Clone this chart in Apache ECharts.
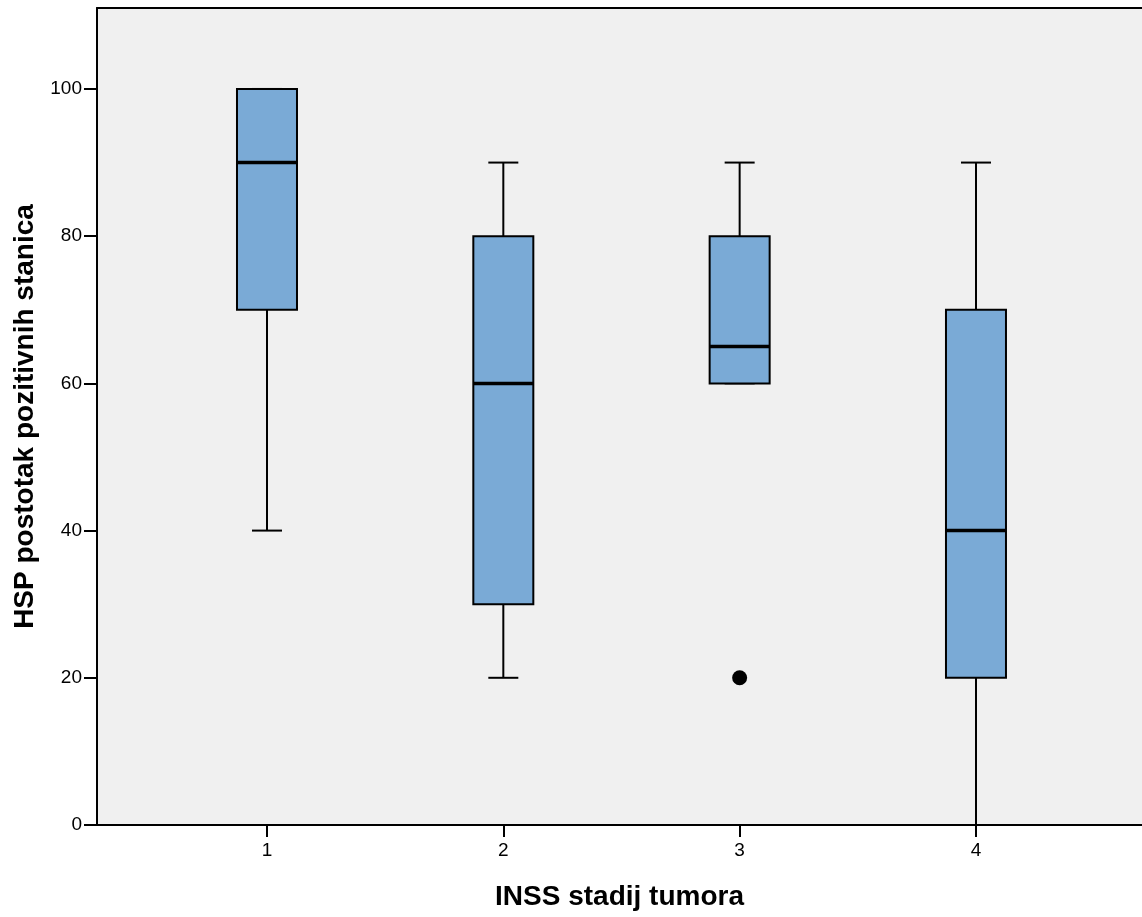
<!DOCTYPE html>
<html>
<head>
<meta charset="utf-8">
<script src="https://cdn.jsdelivr.net/npm/echarts@6/dist/echarts.min.js"></script>
<style>
html,body{margin:0;padding:0;background:#fff;}
#chart{width:1142px;height:917px;}
</style>
</head>
<body>
<div id="chart"></div>
<script>
// Data
const categories = [1, 2, 3, 4];
const whiskerLow = [40, 20, 60, 0];
const q1 = [70, 30, 60, 20];
const medians = [90, 60, 65, 40];
const q3 = [100, 80, 80, 70];
const whiskerHigh = [100, 90, 90, 90];
const outliers = [[3, 20]];
const yTicks = [0, 20, 40, 60, 80, 100];

const boxData = categories.map((c, i) => [c, whiskerLow[i], q1[i], medians[i], q3[i], whiskerHigh[i]]);

const BOX_W = 60, CAP_W = 30;
function renderBox(params, api) {
  const x = api.value(0);
  const pLow = api.coord([x, api.value(1)]);
  const pQ1 = api.coord([x, api.value(2)]);
  const pMed = api.coord([x, api.value(3)]);
  const pQ3 = api.coord([x, api.value(4)]);
  const pHigh = api.coord([x, api.value(5)]);
  const cx = pLow[0];
  const lineStyle = {stroke: '#000', lineWidth: 2};
  return {
    type: 'group',
    children: [
      {type: 'line', shape: {x1: cx, y1: pLow[1], x2: cx, y2: pQ1[1]}, style: lineStyle},
      {type: 'line', shape: {x1: cx, y1: pQ3[1], x2: cx, y2: pHigh[1]}, style: lineStyle},
      {type: 'line', shape: {x1: cx - CAP_W/2, y1: pLow[1], x2: cx + CAP_W/2, y2: pLow[1]}, style: lineStyle},
      {type: 'line', shape: {x1: cx - CAP_W/2, y1: pHigh[1], x2: cx + CAP_W/2, y2: pHigh[1]}, style: lineStyle},
      {type: 'rect', shape: {x: cx - BOX_W/2, y: pQ3[1], width: BOX_W, height: pQ1[1] - pQ3[1]},
        style: {fill: '#7aaad6', stroke: '#000', lineWidth: 2}},
      {type: 'line', shape: {x1: cx - BOX_W/2, y1: pMed[1], x2: cx + BOX_W/2, y2: pMed[1]},
        style: {stroke: '#000', lineWidth: 3.5}}
    ]
  };
}

const FONT = 'Liberation Sans, Arial, sans-serif';
const chart = echarts.init(document.getElementById('chart'), null, {renderer: 'canvas'});
chart.setOption({
  backgroundColor: '#ffffff',
  animation: false,
  grid: {
    left: 97, right: 0, top: 8, bottom: 92,
    show: true, backgroundColor: '#f0f0f0', borderWidth: 0
  },
  xAxis: [{
    type: 'value', min: 0.2807, max: 4.7025,
    name: 'INSS stadij tumora', nameLocation: 'middle', nameGap: 58,
    nameTextStyle: {fontFamily: FONT, fontSize: 28, fontWeight: 'bold', color: '#000'},
    axisLine: {show: true, lineStyle: {color: '#000', width: 2}},
    axisTick: {show: true, customValues: categories, length: 12, lineStyle: {color: '#000', width: 2}},
    axisLabel: {customValues: categories, margin: 16, fontFamily: FONT, fontSize: 19, color: '#000'},
    splitLine: {show: false}
  }, {
    type: 'value', position: 'top', min: 0.2807, max: 4.7025,
    axisLine: {show: true, lineStyle: {color: '#000', width: 2}},
    axisTick: {show: false}, axisLabel: {show: false}, splitLine: {show: false}
  }],
  yAxis: {
    type: 'value', min: 0, max: 111,
    name: 'HSP postotak pozitivnih stanica', nameLocation: 'middle', nameGap: 57,
    nameTextStyle: {fontFamily: FONT, fontSize: 28, fontWeight: 'bold', color: '#000'},
    axisLine: {show: true, lineStyle: {color: '#000', width: 2}},
    axisTick: {show: true, customValues: yTicks, length: 13, lineStyle: {color: '#000', width: 2}},
    axisLabel: {customValues: yTicks, margin: 15, fontFamily: FONT, fontSize: 19, color: '#000'},
    splitLine: {show: false}
  },
  series: [
    {type: 'custom', renderItem: renderBox, data: boxData, clip: false},
    {type: 'scatter', data: outliers, symbol: 'circle', symbolSize: 15, itemStyle: {color: '#000', opacity: 1}}
  ]
});
</script>
</body>
</html>
